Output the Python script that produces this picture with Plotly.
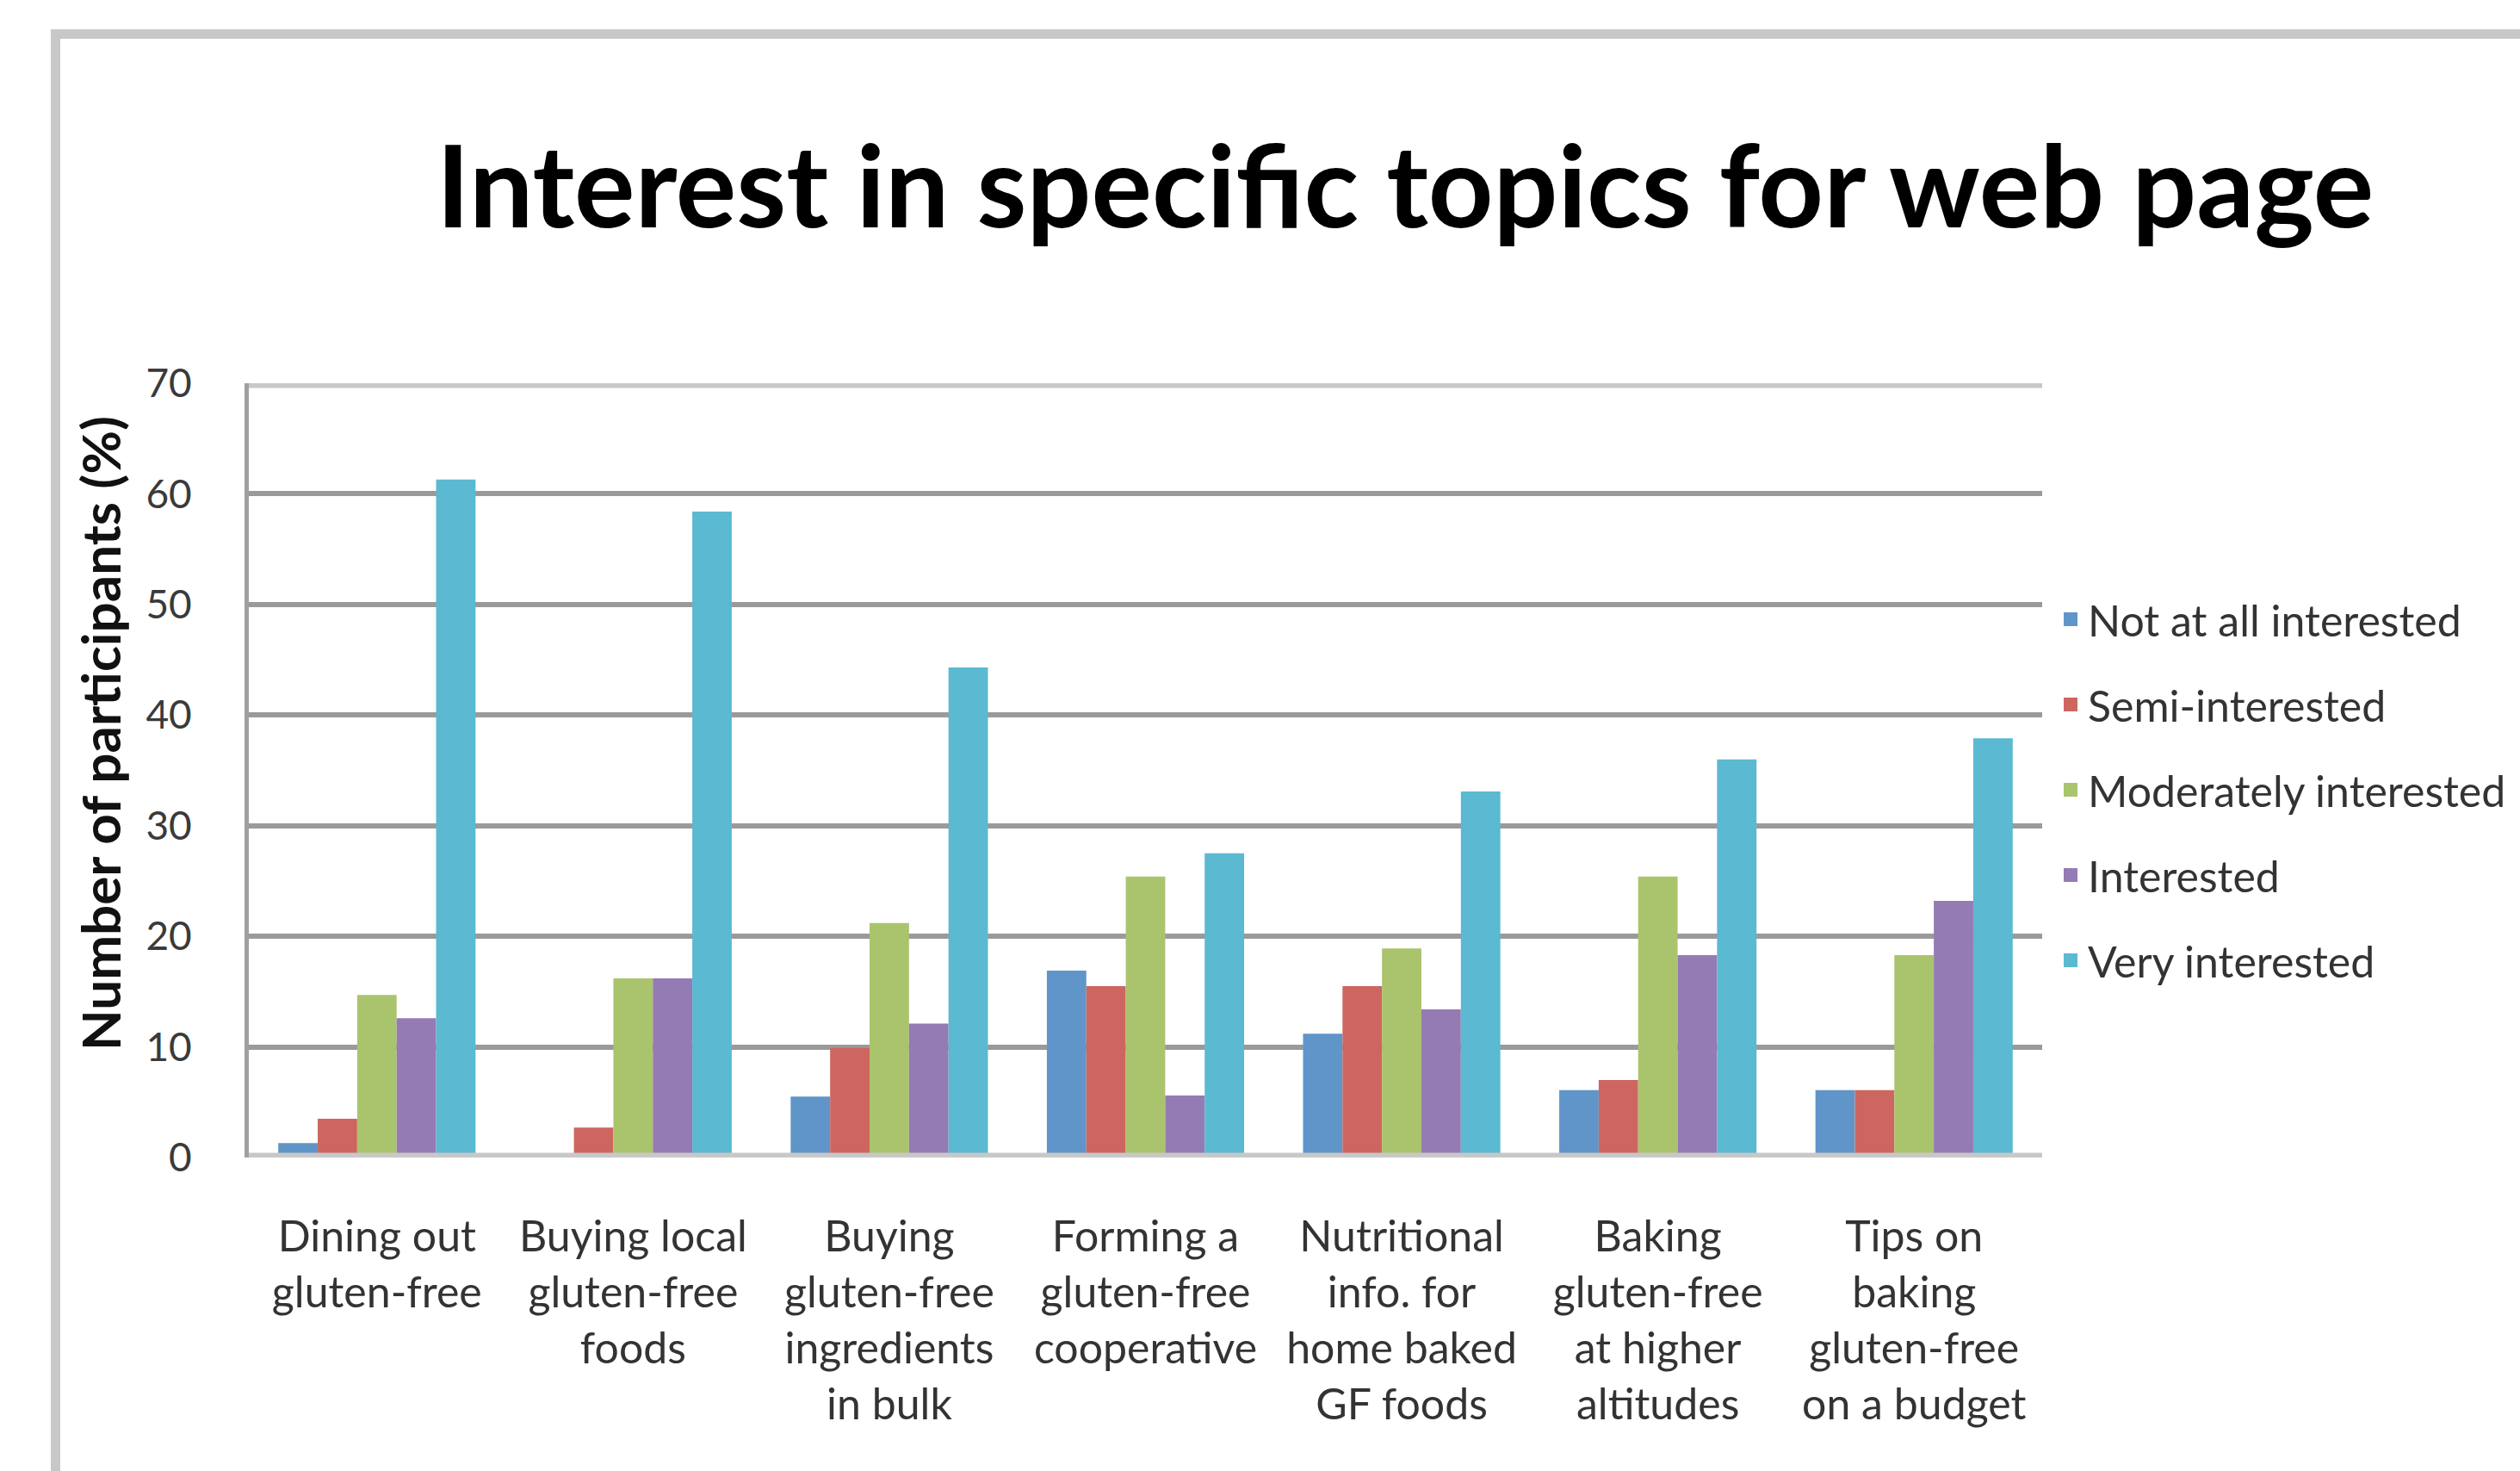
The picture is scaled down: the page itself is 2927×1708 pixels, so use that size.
import plotly.graph_objects as go

categories = [
    "Dining out<br>gluten-free",
    "Buying local<br>gluten-free<br>foods",
    "Buying<br>gluten-free<br>ingredients<br>in bulk",
    "Forming a<br>gluten-free<br>cooperative",
    "Nutritional<br>info. for<br>home baked<br>GF foods",
    "Baking<br>gluten-free<br>at higher<br>altitudes",
    "Tips on<br>baking<br>gluten-free<br>on a budget",
]

series_names = [
    "Not at all interested",
    "Semi-interested",
    "Moderately interested",
    "Interested",
    "Very interested",
]

not_at_all = [1.3, 0.0, 5.5, 16.9, 11.2, 6.1, 6.1]
semi = [3.5, 2.7, 9.9, 15.5, 15.5, 7.0, 6.1]
moderately = [14.7, 16.2, 21.2, 25.4, 18.9, 25.4, 18.3]
interested = [12.6, 16.2, 12.1, 5.6, 13.4, 18.3, 23.2]
very = [61.3, 58.4, 44.3, 27.5, 33.1, 36.0, 37.9]

series_values = [not_at_all, semi, moderately, interested, very]
colors = ["#6095C9", "#CD6660", "#AAC46D", "#957BB3", "#5BB9D2"]

y_ticks = [0, 10, 20, 30, 40, 50, 60, 70]

W, H = 2927, 1708
L, R, T, B = 289, 555, 445, 364
PW, PH = W - L - R, H - T - B


def px_x(p):
    return (p - L) / PW


def px_y(p):
    return (H - B - p) / PH


fig = go.Figure()
for name, vals, col in zip(series_names, series_values, colors):
    fig.add_trace(go.Bar(x=categories, y=vals, name=name, marker=dict(color=col, line=dict(width=0)),
                         showlegend=False))
for i, (name, col) in enumerate(zip(series_names, colors)):
    fig.add_trace(go.Scatter(x=[None], y=[None], mode="markers", name=name, legendgroup="g%d" % i,
                             marker=dict(symbol="square", size=16, color=col)))

grey = "#C8C8C8"
shapes = [
    dict(type="line", xref="paper", yref="y", x0=0, x1=1, y0=0, y1=0, line=dict(color=grey, width=11), layer="above"),
    dict(type="line", xref="paper", yref="y", x0=0, x1=1, y0=70, y1=70, line=dict(color=grey, width=11), layer="above"),
    dict(type="line", xref="paper", yref="paper", x0=px_x(59), x1=px_x(W + 5), y0=px_y(39.5), y1=px_y(39.5),
         line=dict(color=grey, width=11)),
    dict(type="line", xref="paper", yref="paper", x0=px_x(64.5), x1=px_x(64.5), y0=px_y(34), y1=px_y(H + 5),
         line=dict(color=grey, width=11)),
]

fig.update_layout(
    width=W, height=H,
    margin=dict(l=L, r=R, t=T, b=B, autoexpand=False),
    paper_bgcolor="white", plot_bgcolor="white",
    barmode="group", bargap=0.23, bargroupgap=0,
    font=dict(family="Lato", color="#333333"),
    title=dict(text="<b>Interest in specific topics for web page</b>", xref="container", yref="container",
               x=1632 / W, xanchor="center", y=1 - 218 / H, yanchor="middle",
               font=dict(family="Lato", size=132, color="#000000")),
    xaxis=dict(showgrid=False, showline=False, zeroline=False, ticks="", ticklabelstandoff=58,
               tickfont=dict(family="Lato", size=50, color="#333333")),
    yaxis=dict(range=[0, 70], tickvals=y_ticks, showgrid=True, gridcolor="#9A9A9A", gridwidth=6,
               zeroline=False, showline=True, linecolor="#A0A0A0", linewidth=5, ticks="",
               ticklabelstandoff=52, tickfont=dict(family="Lato", size=46, color="#3A3A3A")),
    legend=dict(x=px_x(2385), xanchor="left", y=px_y(680), yanchor="top", tracegroupgap=31,
                itemsizing="trace", font=dict(family="Lato", size=50, color="#333333"),
                bgcolor="rgba(0,0,0,0)"),
    shapes=shapes,
    annotations=[dict(text="<b>Number of participants (%)</b>", textangle=-90, xref="paper", yref="paper",
                      x=px_x(116), y=px_y(852), xanchor="center", yanchor="middle", showarrow=False,
                      font=dict(family="Lato", size=62, color="#111111"))],
)

fig.write_html("out.html", config={"displayModeBar": False},
               post_script="document.body.style.margin='0';document.body.style.overflow='hidden';")
